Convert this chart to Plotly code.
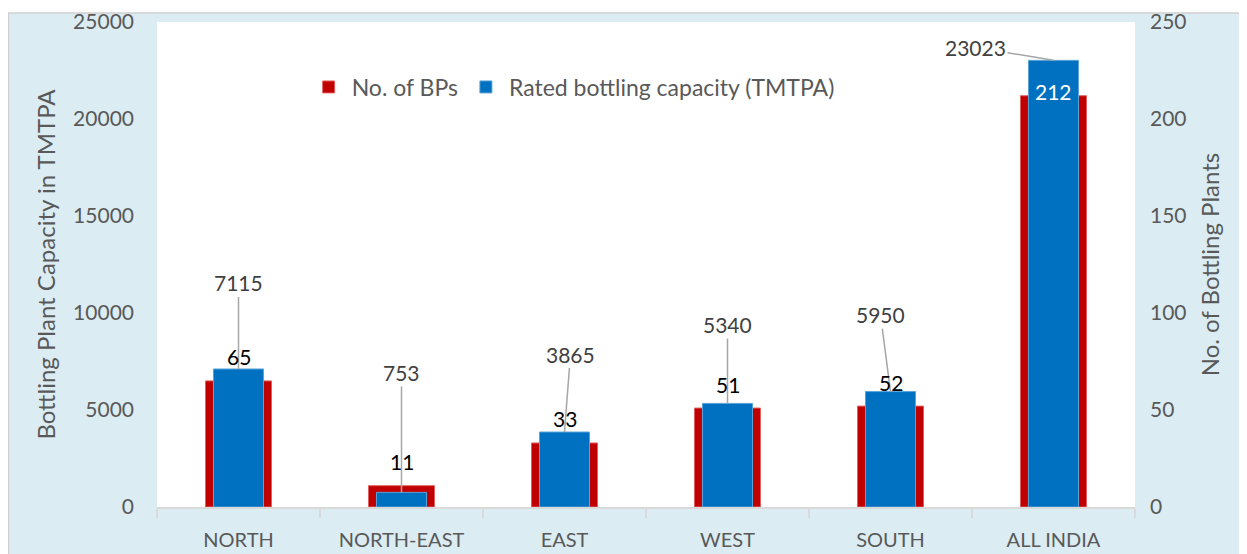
import plotly.graph_objects as go

regions = ["NORTH", "NORTH-EAST", "EAST", "WEST", "SOUTH", "ALL INDIA"]
num_bps = [65, 11, 33, 51, 52, 212]
capacity = [7115, 753, 3865, 5340, 5950, 23023]

# label offsets (style only): pixel offsets of capacity labels from bar tops
cap_ax = [0, 0, 6, 0, -10, -78]
cap_ay = [-86, -120, -78, -79, -77, -13]

FONT = "Lato"
GRAY = "#595959"

fig = go.Figure()
fig.add_trace(go.Bar(
    x=regions, y=num_bps, name="No. of BPs", yaxis="y",
    marker=dict(color="#c00000", line=dict(color="#e06060", width=1)),
    width=0.405, hoverinfo="skip",
))
fig.add_trace(go.Bar(
    x=regions, y=capacity, name="Rated bottling capacity (TMTPA)", yaxis="y2",
    marker=dict(color="#0070c0", line=dict(color="#5ba3d9", width=1)),
    width=0.307, hoverinfo="skip",
))

annotations = []
for i, r in enumerate(regions):
    annotations.append(dict(
        x=r, y=capacity[i], xref="x", yref="y2", text=str(capacity[i]),
        showarrow=True, arrowhead=0, arrowwidth=1.5, arrowcolor="#a6a6a6",
        ax=cap_ax[i], ay=cap_ay[i], standoff=0,
        font=dict(family=FONT, size=21, color="#404040"),
    ))
for i, r in enumerate(regions):
    last = i == len(regions) - 1
    annotations.append(dict(
        x=r, y=num_bps[i], xref="x", yref="y", text=str(num_bps[i]),
        showarrow=False, yanchor="middle",
        yshift=(4 if last else 24),
        font=dict(family=FONT, size=21, color=("white" if last else "black")),
    ))

# figure frame bits (white strip at top, border lines)
shapes = [
    dict(type="rect", xref="paper", yref="paper", x0=-0.16, x1=1.12,
         y0=1.0186, y1=1.04, fillcolor="white", line=dict(width=0), layer="above"),
    dict(type="line", xref="paper", yref="paper", x0=-0.1524, x1=1.12,
         y0=1.0186, y1=1.0186, line=dict(color="#d0d0d0", width=1.5), layer="above"),
    dict(type="line", xref="paper", yref="paper", x0=-0.1519, x1=-0.1519,
         y0=-0.2, y1=1.0186, line=dict(color="#d0d0d0", width=1.5), layer="above"),
]

fig.update_layout(
    width=1239, height=546,
    margin=dict(l=149, r=112, t=14, b=47),
    paper_bgcolor="#dbecf3", plot_bgcolor="white",
    barmode="overlay",
    font=dict(family=FONT, color=GRAY, size=20),
    showlegend=True,
    legend=dict(orientation="h", x=0.152, y=0.866, xanchor="left", yanchor="middle",
                bgcolor="rgba(0,0,0,0)", font=dict(family=FONT, size=23, color=GRAY),
                itemwidth=36, tracegroupgap=0, traceorder="normal"),
    xaxis=dict(
        type="category", showgrid=False, showline=True, linecolor="#d9d9d9", linewidth=2,
        ticks="outside", tickson="boundaries", ticklen=9, tickcolor="#d9d9d9", tickwidth=1.5,
        ticklabelstandoff=14, tickfont=dict(family=FONT, size=20, color=GRAY),
        range=[-0.5, 5.5], automargin=False,
    ),
    yaxis=dict(
        side="right", range=[0, 250], dtick=50, tickformat="d", showgrid=False, zeroline=False,
        showline=False, ticks="", ticklabelstandoff=14, automargin=False,
        tickfont=dict(family=FONT, size=21, color=GRAY),
        title=dict(text="No. of Bottling Plants", font=dict(family=FONT, size=24, color=GRAY), standoff=16),
    ),
    yaxis2=dict(
        overlaying="y", side="left", range=[0, 25000], dtick=5000, tickformat="d", showgrid=False,
        zeroline=False, showline=False, ticks="", ticklabelstandoff=22, automargin=False,
        tickfont=dict(family=FONT, size=21, color=GRAY),
        title=dict(text="Bottling Plant Capacity in TMTPA", font=dict(family=FONT, size=24, color=GRAY), standoff=10),
    ),
    annotations=annotations,
    shapes=shapes,
)

fig.write_html("out.html")
